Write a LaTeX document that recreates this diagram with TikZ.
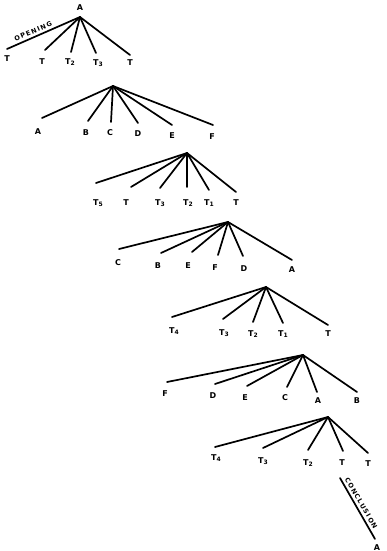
\documentclass[tikz,border=0pt]{standalone}
\usepackage{fontspec}
\setmainfont{DejaVu Sans}
\begin{document}
\begin{tikzpicture}[x=1pt,y=-1pt,
  edge/.style={line width=1.7pt,line cap=round},
  lab/.style={font=\bfseries\fontsize{8}{8}\selectfont,inner sep=0pt,anchor=base},
  slab/.style={font=\bfseries\fontsize{6.5}{6.5}\selectfont\addfontfeature{LetterSpace=18},inner sep=0pt,sloped,above=2.5pt}
]
\useasboundingbox (0,0) rectangle (387,551);
\newcommand{\Ts}[1]{T\raisebox{-1.5pt}{\fontsize{6}{6}\selectfont #1}}
% ---------- Tree 1 ----------
\coordinate (r1) at (80,17);
\node[lab] (a1) at (80,11) {A};
\coordinate (e11) at (7,49);  \node[lab] (l11) at (7,61) {T};
\coordinate (e12) at (45,50); \node[lab] (l12) at (42,64) {T};
\coordinate (e13) at (71,52); \node[lab] (l13) at (70,64) {\Ts{2}};
\coordinate (e14) at (96,53); \node[lab] (l14) at (98,65) {\Ts{3}};
\coordinate (e15) at (130,55);\node[lab] (l15) at (130,66) {T};
\draw[edge] (e11) -- node[slab,pos=0.39] {OPENING} (r1);
\foreach \i in {2,...,5} \draw[edge] (r1) -- (e1\i);
% ---------- Tree 2 ----------
\coordinate (r2) at (113,86);
\coordinate (e21) at (42,118);  \node[lab] (l21) at (38,134) {A};
\coordinate (e22) at (88,121);  \node[lab] (l22) at (86,135) {B};
\coordinate (e23) at (111,122); \node[lab] (l23) at (110,135) {C};
\coordinate (e24) at (138,123); \node[lab] (l24) at (138,136) {D};
\coordinate (e25) at (172,125); \node[lab] (l25) at (172,138) {E};
\coordinate (e26) at (213,125); \node[lab] (l26) at (212,139) {F};
\foreach \i in {1,...,6} \draw[edge] (r2) -- (e2\i);
% ---------- Tree 3 ----------
\coordinate (r3) at (187,153);
\coordinate (e31) at (96,183);  \node[lab] (l31) at (98,205) {\Ts{5}};
\coordinate (e32) at (131,187); \node[lab] (l32) at (126,205) {T};
\coordinate (e33) at (160,188); \node[lab] (l33) at (160,205) {\Ts{3}};
\coordinate (e34) at (187,187); \node[lab] (l34) at (188,205) {\Ts{2}};
\coordinate (e35) at (209,190); \node[lab] (l35) at (209,205) {\Ts{1}};
\coordinate (e36) at (236,192); \node[lab] (l36) at (236,205) {T};
\foreach \i in {1,...,6} \draw[edge] (r3) -- (e3\i);
% ---------- Tree 4 ----------
\coordinate (r4) at (228,222);
\coordinate (e41) at (119,249); \node[lab] (l41) at (118,265) {C};
\coordinate (e42) at (161,253); \node[lab] (l42) at (158,268) {B};
\coordinate (e43) at (192,252); \node[lab] (l43) at (188,268) {E};
\coordinate (e44) at (218,255); \node[lab] (l44) at (215,270) {F};
\coordinate (e45) at (243,256); \node[lab] (l45) at (244,271) {D};
\coordinate (e46) at (292,260); \node[lab] (l46) at (292,272) {A};
\foreach \i in {1,...,6} \draw[edge] (r4) -- (e4\i);
% ---------- Tree 5 ----------
\coordinate (r5) at (266,287);
\coordinate (e51) at (172,317); \node[lab] (l51) at (174,333) {\Ts{4}};
\coordinate (e52) at (223,319); \node[lab] (l52) at (224,335) {\Ts{3}};
\coordinate (e53) at (253,322); \node[lab] (l53) at (253,336) {\Ts{2}};
\coordinate (e54) at (283,323); \node[lab] (l54) at (283,336) {\Ts{1}};
\coordinate (e55) at (328,325); \node[lab] (l55) at (328,336) {T};
\foreach \i in {1,...,5} \draw[edge] (r5) -- (e5\i);
% ---------- Tree 6 ----------
\coordinate (r6) at (303,355);
\coordinate (e61) at (167,382); \node[lab] (l61) at (165,396) {F};
\coordinate (e62) at (215,384); \node[lab] (l62) at (213,398) {D};
\coordinate (e63) at (247,386); \node[lab] (l63) at (245,400) {E};
\coordinate (e64) at (287,387); \node[lab] (l64) at (285,400) {C};
\coordinate (e65) at (317,392); \node[lab] (l65) at (318,403) {A};
\coordinate (e66) at (357,392); \node[lab] (l66) at (357,403) {B};
\foreach \i in {1,...,6} \draw[edge] (r6) -- (e6\i);
% ---------- Tree 7 ----------
\coordinate (r7) at (328,417);
\coordinate (e71) at (215,447); \node[lab] (l71) at (216,460) {\Ts{4}};
\coordinate (e72) at (263,448); \node[lab] (l72) at (263,463) {\Ts{3}};
\coordinate (e73) at (308,450); \node[lab] (l73) at (308,465) {\Ts{2}};
\coordinate (e74) at (343,451); \node[lab] (l74) at (342,465) {T};
\coordinate (e75) at (368,453); \node[lab] (l75) at (368,466) {T};
\foreach \i in {1,...,5} \draw[edge] (r7) -- (e7\i);
% ---------- Conclusion ----------
\coordinate (c1) at (340,478);
\coordinate (c2) at (375,539);
\node[lab] (a2) at (377,550) {A};
\draw[edge] (c1) -- node[slab,pos=0.46] {CONCLUSION} (c2);
\end{tikzpicture}
\end{document}
